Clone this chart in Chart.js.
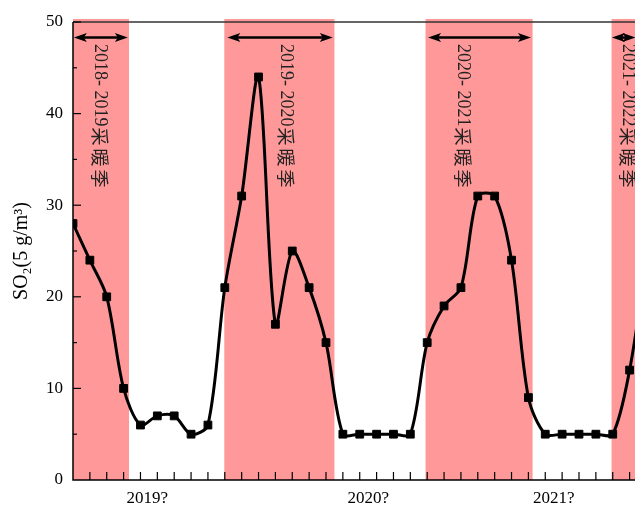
<html>
<head>
  <script src="https://cdn.jsdelivr.net/npm/chart.js"></script>
  <style>body{margin:0;background:#fff;overflow:hidden;width:635px}</style>
</head>
<body>
  <canvas id="so2Chart" width="642" height="506"></canvas>
  <script>
    // month index along the x axis
    const months = [0,1,2,3,4,5,6,7,8,9,10,11,12,13,14,15,16,17,18,19,20,21,22,23,24,25,26,27,28,29,30,31,32,33,34];
    const so2 = [28,24,20,10,6,7,7,5,6,21,31,44,17,25,21,15,5,5,5,5,5,15,19,21,31,31,24,9,5,5,5,5,5,12,24];

    // year labels under the axis
    const yearTickPos = [4.4, 17.5, 28.5];
    const yearTickLabels = ['2019?', '2020?', '2021?'];

    // heating seasons (in month index)
    const bandStart = [0, 8.97, 20.9, 31.93];
    const bandEnd = [3.32, 15.5, 27.25, 40];
    const bandYears = ['2018- 2019', '2019- 2020', '2020- 2021', '2021- 2022'];
    const bandWord = '采暖季';

    // where the arrows and the vertical texts go
    const arrowStart = [0.05, 9.15, 21.05, 31.95];
    const arrowEnd = [3.25, 15.4, 27.15, 33.35];
    const arrowY = 48.3;
    const labelX = [1.6, 12.6, 23.1, 32.9];
    const labelY = 47.6;

    const SERIF = '"Liberation Serif", "Noto Sans CJK SC", serif';

    function arrowHead(ctx, x, y, dir) {
      ctx.beginPath();
      ctx.moveTo(x, y);
      ctx.lineTo(x + dir * 13, y - 4.5);
      ctx.lineTo(x + dir * 10, y);
      ctx.lineTo(x + dir * 13, y + 4.5);
      ctx.closePath();
      ctx.fill();
    }

    const decor = {
      id: 'decor',
      beforeDraw(chart) {
        const { ctx, chartArea: a, scales: { x } } = chart;
        ctx.save();
        ctx.fillStyle = 'rgb(255,153,153)';
        bandStart.forEach((s, i) => {
          const x0 = x.getPixelForValue(s);
          const x1 = Math.min(x.getPixelForValue(bandEnd[i]), a.right);
          ctx.fillRect(x0, a.top - 3, x1 - x0, a.bottom - a.top + 3);
        });
        ctx.restore();
      },
      beforeDatasetsDraw(chart) {
        const { ctx, scales: { x, y } } = chart;
        ctx.save();
        ctx.strokeStyle = '#000';
        ctx.fillStyle = '#000';
        ctx.lineWidth = 2.5;
        const py = y.getPixelForValue(arrowY);
        arrowStart.forEach((s, i) => {
          const x0 = x.getPixelForValue(s);
          const x1 = x.getPixelForValue(arrowEnd[i]);
          ctx.beginPath();
          ctx.moveTo(x0 + 5, py);
          ctx.lineTo(x1 - 5, py);
          ctx.stroke();
          arrowHead(ctx, x0, py, 1);
          arrowHead(ctx, x1, py, -1);
        });
        ctx.fillStyle = '#222';
        ctx.textAlign = 'left';
        ctx.textBaseline = 'middle';
        bandYears.forEach((t, i) => {
          ctx.save();
          ctx.translate(x.getPixelForValue(labelX[i]), y.getPixelForValue(labelY));
          ctx.rotate(Math.PI / 2);
          ctx.font = '18px ' + SERIF;
          ctx.fillText(t, 0, 0);
          let pos = ctx.measureText(t).width + 1;
          ctx.font = '18px "Noto Sans CJK SC"';
          for (const ch of bandWord) {
            ctx.fillText(ch, pos, 0);
            pos += 21;
          }
          ctx.restore();
        });
        ctx.restore();
      },
      afterDatasetsDraw(chart) {
        const { ctx, chartArea: a, scales: { x, y } } = chart;
        ctx.save();
        ctx.strokeStyle = '#000';
        ctx.lineWidth = 1.5;
        ctx.beginPath();
        ctx.moveTo(a.left, a.top);
        ctx.lineTo(a.left, a.bottom);
        ctx.lineTo(a.right, a.bottom);
        ctx.stroke();
        ctx.strokeStyle = '#333';
        ctx.beginPath();
        ctx.moveTo(a.left, a.top);
        ctx.lineTo(a.right, a.top);
        ctx.stroke();
        ctx.strokeStyle = '#000';
        ctx.lineWidth = 1.2;
        // month ticks, pointing in
        months.forEach(m => {
          const px = x.getPixelForValue(m);
          if (m === 0 || px > a.right) return;
          ctx.beginPath();
          ctx.moveTo(px, a.bottom);
          ctx.lineTo(px, a.bottom - 8);
          ctx.stroke();
        });
        // y ticks, major and minor
        for (let v = 5; v <= 50; v += 5) {
          const py = y.getPixelForValue(v);
          ctx.beginPath();
          ctx.moveTo(a.left, py);
          ctx.lineTo(a.left + (v % 10 === 0 ? 8 : 4), py);
          ctx.stroke();
        }
        ctx.restore();
      }
    };

    new Chart(document.getElementById('so2Chart'), {
      type: 'line',
      data: {
        labels: months,
        datasets: [{
          data: months.map((m, i) => ({ x: m, y: so2[i] })),
          borderColor: '#000',
          backgroundColor: '#000',
          borderWidth: 3,
          tension: 0.3,
          pointStyle: 'rect',
          pointRadius: 5.5,
          pointBorderWidth: 1,
          fill: false
        }]
      },
      options: {
        responsive: false,
        animation: false,
        layout: { padding: { top: 22, right: 0, left: 0, bottom: 0 } },
        plugins: { legend: { display: false }, tooltip: { enabled: false } },
        scales: {
          x: {
            type: 'linear',
            min: 0,
            max: 33.35,
            grid: { display: false, drawTicks: false },
            border: { display: false },
            afterBuildTicks: s => { s.ticks = yearTickPos.map(v => ({ value: v })); },
            afterFit: s => { s.height = 26; },
            ticks: {
              autoSkip: false,
              maxRotation: 0,
              padding: 8,
              color: '#000',
              font: { family: SERIF, size: 17 },
              callback: (v) => yearTickLabels[yearTickPos.indexOf(v)]
            }
          },
          y: {
            min: 0,
            max: 50,
            grid: { display: false, drawTicks: false },
            border: { display: false },
            afterFit: s => { s.width = 73; },
            ticks: {
              stepSize: 10,
              padding: 10,
              color: '#000',
              font: { family: SERIF, size: 17 }
            },
            title: {
              display: true,
              text: 'SO₂(5 g/m³)',
              color: '#000',
              font: { family: SERIF, size: 20 },
              padding: { top: 10, bottom: 0 }
            }
          }
        }
      },
      plugins: [decor]
    });
  </script>
</body>
</html>
